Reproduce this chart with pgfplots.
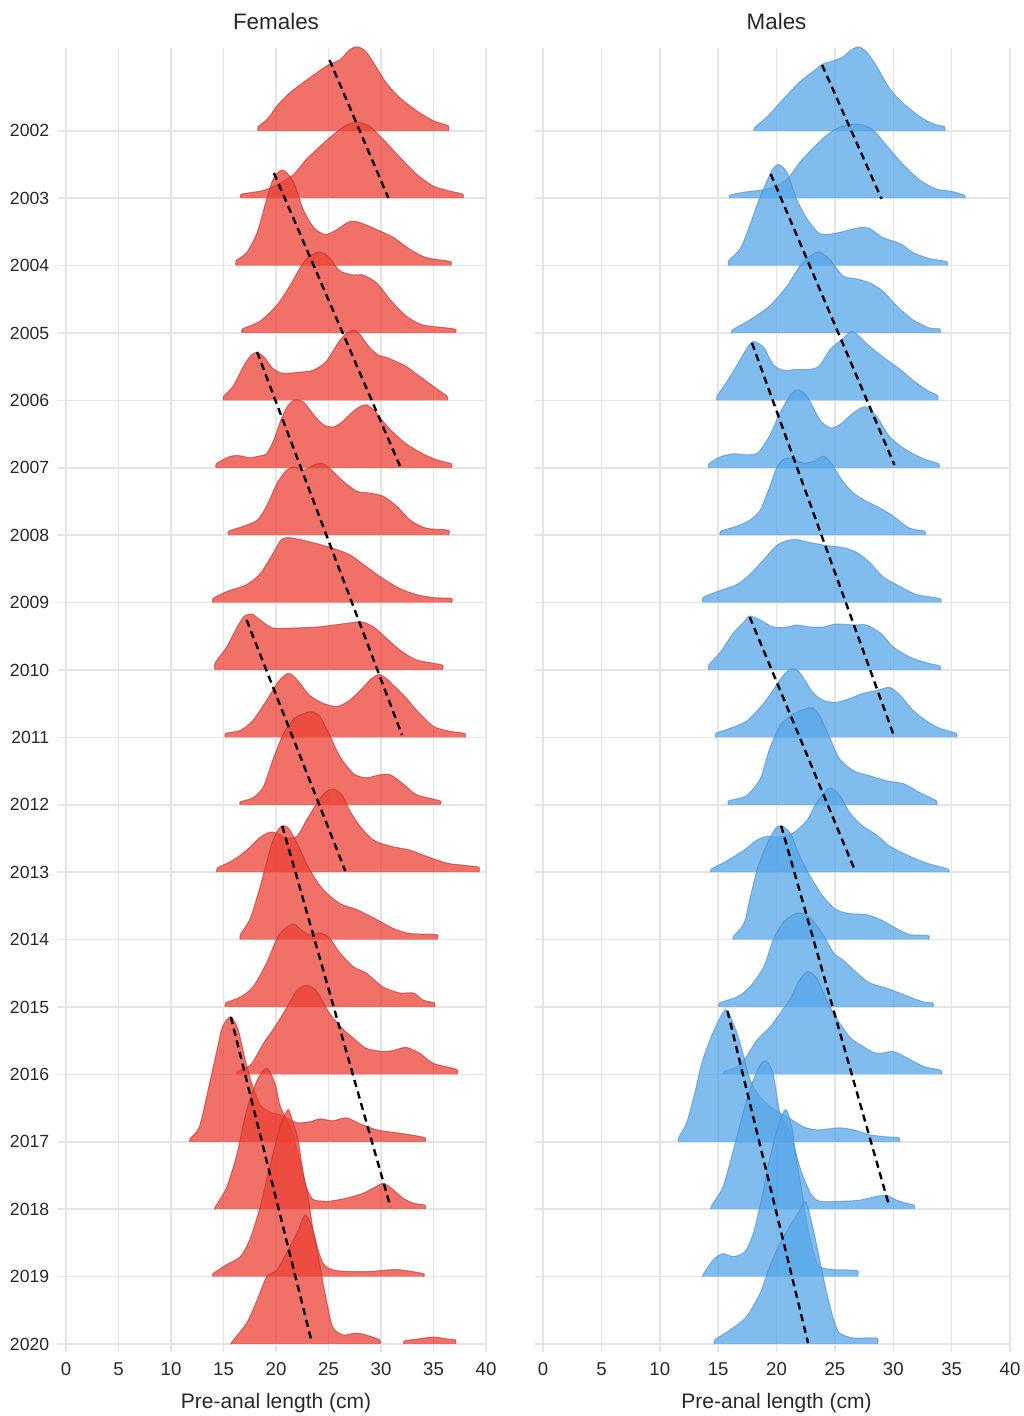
\documentclass[border=0pt]{standalone}
\usepackage{fontspec}
\setmainfont{Liberation Sans}
\usepackage{pgfplots}
\usepackage{pgfplotstable}
\pgfplotsset{compat=1.18}
\definecolor{RF}{RGB}{236,64,52}
\definecolor{RL}{RGB}{185,50,45}
\definecolor{BF}{RGB}{85,165,232}
\definecolor{BL}{RGB}{75,140,205}
\definecolor{gridc}{RGB}{228,228,228}
\definecolor{txt}{RGB}{40,40,40}

% ---------------- Females ----------------
\pgfplotstableread{
x h
18.3 0
18.3 4
19.2 12
20.1 25
21.2 37
22.3 46
23.6 56
25.0 66
26.1 71
27.0 81
27.7 84
28.5 80
29.3 68
30.5 48
31.8 33
33.4 20
35.0 10
36.4 5
36.4 0
}\FA
\pgfplotstableread{
x h
16.7 0
16.7 4
18.5 7
19.4 10
20.7 17
21.7 24
22.9 39
24.2 52
25.5 64
26.7 73
27.8 76
28.9 72
30.2 59
31.8 41
33.4 24
35.0 12
36.6 7
37.8 4
37.8 0
}\FB
\pgfplotstableread{
x h
16.2 0
16.2 5
17.2 13
18.2 33
19.1 66
19.7 86
20.4 95
20.9 94
21.7 83
22.6 56
23.6 38
24.7 31
25.8 36
27.0 44
28.0 43
29.6 36
31.2 28
32.8 16
34.3 8
36.6 4
36.6 0
}\FC
\pgfplotstableread{
x h
16.8 0
16.8 4
18.5 12
20.1 28
21.3 47
22.4 67
23.2 77
24.2 81
25.1 75
26.1 62
27.4 58
28.3 58
29.6 50
30.9 33
32.4 17
34.0 8
37.0 4
37.0 0
}\FD
\pgfplotstableread{
x h
15.0 0
15.0 4
15.9 14
16.9 34
17.6 45
18.2 48
18.9 43
19.6 33
20.3 28
21.0 27
22.0 28
23.5 30
24.7 38
25.4 49
26.0 59
26.7 67
27.4 70
28.0 66
28.6 57
29.2 50
29.8 45
30.5 43
31.2 40
32.4 34
33.7 24
35.0 14
36.3 4
36.3 0
}\FE
\pgfplotstableread{
x h
14.3 0
14.3 4
15.3 10
15.9 12
16.6 12
17.5 10
18.5 12
19.1 14
19.8 28
20.4 46
21.0 60
21.6 67
22.1 68
22.7 65
23.3 57
24.0 48
24.7 42
25.5 41
26.2 45
27.0 53
27.8 60
28.6 63
29.4 57
30.0 49
30.9 38
32.4 24
34.0 14
35.3 8
36.7 4
36.7 0
}\FF
\pgfplotstableread{
x h
15.5 0
15.5 4
16.9 9
18.2 15
19.1 29
20.1 52
21.0 65
21.8 68
22.6 65
23.6 70
24.3 72
25.1 67
26.4 54
27.7 44
29.0 42
30.2 39
31.5 29
32.8 15
34.3 7
36.4 5
36.4 0
}\FG
\pgfplotstableread{
x h
14.0 0
14.0 4
15.3 11
17.2 18
18.5 29
19.7 49
20.5 63
21.2 65
22.3 63
23.9 59
25.5 54
27.0 48
28.6 36
30.2 24
31.8 14
33.4 8
35.0 5
36.7 4
36.7 0
}\FH
\pgfplotstableread{
x h
14.2 0
14.2 7
15.3 23
16.3 43
17.0 54
17.7 56
18.5 50
19.7 42
21.7 42
23.9 43
25.5 45
27.0 47
28.2 48
29.3 43
30.5 32
31.8 20
33.4 10
35.8 5
35.8 0
}\FI
\pgfplotstableread{
x h
15.2 0
15.2 4
16.6 7
17.8 17
19.1 37
20.1 54
20.6 60
21.1 64
21.6 62
22.3 54
23.2 42
24.5 34
25.8 31
27.0 37
28.3 50
29.0 58
29.8 63
30.5 59
31.2 52
31.8 46
32.6 37
33.4 27
35.0 11
36.6 6
38.0 4
38.0 0
}\FJ
\pgfplotstableread{
x h
16.6 0
16.6 3
17.8 7
18.8 18
19.7 45
20.7 71
21.7 86
22.6 91
23.4 93
24.2 88
25.1 70
26.1 48
27.4 31
28.6 27
29.9 30
30.9 30
32.1 21
33.4 10
35.6 4
35.6 0
}\FK
\pgfplotstableread{
x h
14.4 0
14.4 4
15.9 12
17.2 22
18.5 35
19.4 40
20.1 39
21.0 34
22.0 36
22.9 52
23.9 69
24.7 80
25.5 83
26.3 77
27.0 62
28.0 46
29.3 32
30.9 26
32.8 22
34.3 16
36.3 9
37.8 7
39.3 5
39.3 0
}\FL
\pgfplotstableread{
x h
16.6 0
16.6 5
17.5 20
18.3 46
19.0 73
19.6 96
20.2 110
20.7 114
21.3 110
22.3 90
23.2 70
24.5 50
26.1 36
27.7 30
29.6 20
31.2 11
32.8 6
35.3 5
35.3 0
}\FM
\pgfplotstableread{
x h
15.2 0
15.2 4
16.6 10
17.8 20
19.1 44
20.1 69
20.9 79
21.7 83
22.4 77
23.2 72
24.2 74
25.1 69
26.1 54
27.4 40
28.6 34
30.2 20
31.8 14
33.1 14
34.0 7
35.1 4
35.1 0
}\FN
\pgfplotstableread{
x h
16.3 0
16.3 3
17.0 6
17.7 11
18.8 31
19.6 43
20.4 56
21.3 72
22.0 84
22.9 89
23.8 84
24.5 72
25.1 61
25.8 52
26.5 44
27.4 36
28.6 26
30.2 23
31.2 24
32.4 27
33.7 21
35.0 11
37.2 5
37.2 0
}\FO
\pgfplotstableread{
x h
11.8 0
11.8 3
12.7 15
13.6 55
14.3 88
14.9 115
15.7 125
16.4 112
17.0 85
17.7 58
18.5 37
19.4 30
20.4 27
21.2 23
22.0 19
23.2 20
24.2 23
25.4 21
26.7 24
28.0 18
29.6 12
31.5 9
32.8 7
34.2 4
34.2 0
}\FP
\pgfplotstableread{
x h
14.2 0
14.2 2
15.3 22
16.3 56
17.2 99
18.2 129
19.1 141
19.9 126
20.4 103
21.0 90
21.6 75
22.3 48
22.9 22
23.5 10
24.5 8
25.1 8
26.7 11
28.3 16
29.6 23
30.2 26
31.0 21
32.1 11
33.1 6
34.2 4
34.2 0
}\FQ
\pgfplotstableread{
x h
14.0 0
14.0 3
15.3 12
16.6 20
17.5 37
18.5 70
19.4 110
20.4 150
20.9 163
21.2 167
21.6 155
22.1 137
22.6 103
23.1 77
23.6 43
24.5 13
25.8 6
28.6 5
31.5 7
34.0 3
34.0 0
}\FR
\pgfplotstableread{
x h
15.8 0
15.8 2
17.2 21
18.2 44
19.1 67
20.1 74
21.0 91
22.0 111
22.8 129
23.6 111
24.2 77
24.8 44
25.4 17
26.4 9
27.6 11
28.6 9
29.9 4
29.9 0
}\FS
\pgfplotstableread{
x h
32.2 0
32.2 3
33.5 5
35.0 7
36.3 5
37.1 4
37.1 0
}\FSb

% ---------------- Males ----------------
\pgfplotstableread{
x h
18.1 0
18.1 3
19.2 14
20.6 32
22.0 49
23.2 60
24.0 67
24.9 70
25.7 74
26.3 80
27.0 84
27.7 79
28.6 64
29.7 42
30.9 27
32.3 14
33.4 7
34.4 4
34.4 0
}\MA
\pgfplotstableread{
x h
16.0 0
16.0 3
17.2 6
18.6 8
19.7 11
20.9 19
22.0 36
23.2 51
24.3 63
25.4 71
26.6 74
27.4 73
28.3 68
29.4 53
30.9 33
32.3 18
33.7 9
34.9 7
36.1 3
36.1 0
}\MB
\pgfplotstableread{
x h
15.9 0
15.9 5
16.9 17
17.7 40
18.4 63
19.2 85
19.7 97
20.2 101
20.9 93
21.7 67
22.6 47
23.7 32
24.9 32
26.0 35
27.1 38
28.0 37
29.1 28
30.6 22
31.7 13
33.1 7
34.6 4
34.6 0
}\MC
\pgfplotstableread{
x h
16.2 0
16.2 3
17.7 13
19.4 27
20.9 47
22.0 67
22.9 77
23.7 81
24.6 73
25.7 57
26.9 54
28.0 50
29.1 42
30.3 27
31.7 13
33.1 5
34.0 4
34.0 0
}\MD
\pgfplotstableread{
x h
14.9 0
14.9 4
15.7 18
16.6 35
17.4 51
18.0 59
18.9 53
19.7 36
20.6 30
21.7 31
22.9 31
23.7 35
24.6 51
25.7 62
26.4 69
27.1 64
27.7 57
28.3 51
29.4 41
30.6 31
31.7 20
32.9 10
33.8 5
33.8 0
}\ME
\pgfplotstableread{
x h
14.2 0
14.2 4
15.2 11
16.3 14
17.4 13
18.4 15
19.4 32
20.3 55
21.2 73
21.9 78
22.7 70
23.7 48
24.6 40
25.4 43
26.6 55
27.6 61
28.6 51
29.7 31
31.1 18
32.6 9
33.9 4
33.9 0
}\MF
\pgfplotstableread{
x h
15.2 0
15.2 4
16.6 9
17.7 15
18.6 25
19.4 48
20.0 67
20.6 76
21.3 77
22.3 72
23.2 74
24.0 79
24.7 72
25.6 55
26.6 42
27.7 34
28.9 27
30.0 19
31.4 7
32.7 4
32.7 0
}\MG
\pgfplotstableread{
x h
13.7 0
13.7 5
14.9 11
16.6 18
17.7 28
18.9 43
20.0 57
20.9 62
21.7 63
22.9 60
24.3 57
25.7 55
26.9 50
28.0 40
29.1 26
30.6 16
32.0 8
34.0 4
34.0 0
}\MH
\pgfplotstableread{
x h
14.2 0
14.2 5
15.2 18
16.3 37
17.2 48
17.7 54
18.6 50
19.7 43
20.9 43
21.7 45
22.9 43
24.0 43
25.1 46
26.6 45
27.7 45
28.9 37
30.0 23
31.4 13
32.9 7
34.0 4
34.0 0
}\MI
\pgfplotstableread{
x h
14.8 0
14.8 4
16.0 9
17.4 16
18.6 30
19.4 42
20.3 58
21.0 67
21.4 69
21.9 66
22.5 56
23.1 45
24.0 37
25.1 35
26.3 39
27.4 44
28.6 47
29.7 50
30.6 42
31.7 27
32.9 16
34.0 9
35.4 4
35.4 0
}\MJ
\pgfplotstableread{
x h
15.9 0
15.9 4
17.4 9
18.6 26
19.4 56
20.3 79
21.2 89
22.0 94
23.0 97
23.7 89
24.6 66
25.4 46
26.6 34
28.0 29
29.4 24
30.9 21
32.3 12
33.7 4
33.7 0
}\MK
\pgfplotstableread{
x h
14.4 0
14.4 3
15.7 11
17.2 22
18.3 32
19.2 36
20.0 35
21.4 39
22.6 52
23.4 69
24.3 82
24.7 84
25.4 77
26.3 59
27.4 46
28.6 37
29.7 26
31.4 16
32.9 9
34.7 3
34.7 0
}\ML
\pgfplotstableread{
x h
16.3 0
16.3 3
17.2 16
17.7 40
18.4 73
19.2 96
19.9 111
20.4 114
21.2 106
22.0 83
22.9 63
24.0 43
25.1 30
26.3 26
27.7 25
28.9 20
30.3 11
31.4 5
33.0 4
33.0 0
}\MM
\pgfplotstableread{
x h
15.1 0
15.1 4
16.6 10
17.7 20
18.9 40
19.7 67
20.6 85
21.4 92
22.0 94
22.9 89
23.9 74
24.9 54
25.7 47
26.9 34
28.0 24
29.4 19
30.3 15
31.4 10
32.6 5
33.4 4
33.4 0
}\MN
\pgfplotstableread{
x h
15.5 0
15.5 3
16.5 7
17.2 14
18.3 34
19.4 47
20.3 61
21.2 76
21.9 93
22.7 103
23.5 95
24.3 74
25.1 57
26.3 37
27.4 28
28.3 22
28.9 21
30.0 23
31.1 17
32.6 8
34.1 4
34.1 0
}\MO
\pgfplotstableread{
x h
11.6 0
11.6 4
12.3 19
13.0 49
13.6 79
14.3 102
14.9 118
15.7 132
16.6 109
17.2 85
17.7 63
18.6 45
19.7 33
20.9 25
22.3 15
23.4 12
24.6 13
25.4 14
26.6 12
28.0 7
29.4 5
30.5 4
30.5 0
}\MP
\pgfplotstableread{
x h
14.4 0
14.4 3
15.4 22
16.3 59
17.2 99
17.9 126
18.6 144
19.1 148
19.7 136
20.3 96
21.2 76
22.0 42
22.9 16
23.7 8
25.7 8
27.1 9
28.6 13
29.4 14
30.3 9
31.1 6
31.8 4
31.8 0
}\MQ
\pgfplotstableread{
x h
13.7 0
13.7 2
14.6 17
15.4 23
16.3 20
17.3 25
18.0 43
18.7 77
19.4 117
20.2 153
20.8 167
21.3 150
21.7 117
22.2 83
22.6 53
23.2 23
23.7 10
24.9 7
26.9 6
26.9 0
}\MR
\pgfplotstableread{
x h
14.7 0
14.7 4
16.0 14
17.4 27
18.6 51
19.4 77
20.3 101
21.1 117
21.9 132
22.5 142
23.1 117
23.7 84
24.3 51
24.9 24
25.4 11
26.6 6
28.6 6
28.6 0
}\MS

\newcommand{\ridge}[3]{%
  \addplot[smooth, tension=0.45, fill=#3F, fill opacity=0.75, draw=none] table[x=x, y expr=\thisrow{h}+#2] {#1};
  \addplot[smooth, tension=0.45, draw=#3L, line width=0.5pt, draw opacity=0.6] table[x=x, y expr=\thisrow{h}+#2] {#1};
}

\pgfplotsset{
  ridgeax/.style={
    scale only axis,
    height=652pt,
    xmax=40, ymin=-8, ymax=1296,
    axis line style={draw=none},
    major tick length=0pt,
    grid=major,
    grid style={gridc, line width=0.75pt},
    xtick={0,5,...,40},
    ytick={0,67.4,134.8,202.2,269.6,337,404.4,471.8,539.2,606.6,674,741.4,808.8,876.2,943.6,1011,1078.4,1145.8,1213.2},
    clip=false,
    /pgf/number format/assume math mode=true,
    xticklabel style={font=\fontsize{9.3}{11}\selectfont, text=txt, yshift=-1.7pt},
    yticklabel style={font=\fontsize{8.8}{10}\selectfont, text=txt, xshift=-0.7pt},
  },
  dashln/.style={black, line width=1.2pt, dash pattern=on 3.6pt off 2.4pt},
}

\begin{document}
\begin{tikzpicture}
\path[use as bounding box] (0,0) rectangle (511.5pt,708pt);

% ================= Females =================
\begin{axis}[ridgeax,
  at={(28.8pt,32pt)}, anchor=south west,
  width=214.2pt, xmin=-0.8,
  yticklabels={2020,2019,2018,2017,2016,2015,2014,2013,2012,2011,2010,2009,2008,2007,2006,2005,2004,2003,2002},
]
\ridge{\FA}{1213.2}{R}
\ridge{\FB}{1145.8}{R}
\ridge{\FC}{1078.4}{R}
\ridge{\FD}{1011}{R}
\ridge{\FE}{943.6}{R}
\ridge{\FF}{876.2}{R}
\ridge{\FG}{808.8}{R}
\ridge{\FH}{741.4}{R}
\ridge{\FI}{674}{R}
\ridge{\FJ}{606.6}{R}
\ridge{\FK}{539.2}{R}
\ridge{\FL}{471.8}{R}
\ridge{\FM}{404.4}{R}
\ridge{\FN}{337}{R}
\ridge{\FO}{269.6}{R}
\ridge{\FP}{202.2}{R}
\ridge{\FQ}{134.8}{R}
\ridge{\FR}{67.4}{R}
\ridge{\FS}{0}{R}
\ridge{\FSb}{0}{R}
\addplot[dashln] coordinates {(25.1,1284) (30.7,1146)};
\addplot[dashln] coordinates {(19.8,1171) (31.8,878)};
\addplot[dashln] coordinates {(18.2,992) (32.0,609)};
\addplot[dashln] coordinates {(17.2,724) (26.6,473)};
\addplot[dashln] coordinates {(20.6,518) (30.9,137)};
\addplot[dashln] coordinates {(15.7,327) (23.4,2)};
\node[font=\fontsize{11.2}{13}\selectfont, text=txt, anchor=base] at (axis cs:20,1296) [yshift=9.3pt] {Females};
\node[font=\fontsize{10.5}{12}\selectfont, text=txt, anchor=base] at (axis cs:20,-8) [yshift=-28pt] {Pre-anal length (cm)};
\end{axis}

% ================= Males =================
\begin{axis}[ridgeax,
  at={(267.5pt,32pt)}, anchor=south west,
  width=237.5pt, xmin=-0.69,
  yticklabels={},
]
\ridge{\MA}{1213.2}{B}
\ridge{\MB}{1145.8}{B}
\ridge{\MC}{1078.4}{B}
\ridge{\MD}{1011}{B}
\ridge{\ME}{943.6}{B}
\ridge{\MF}{876.2}{B}
\ridge{\MG}{808.8}{B}
\ridge{\MH}{741.4}{B}
\ridge{\MI}{674}{B}
\ridge{\MJ}{606.6}{B}
\ridge{\MK}{539.2}{B}
\ridge{\ML}{471.8}{B}
\ridge{\MM}{404.4}{B}
\ridge{\MN}{337}{B}
\ridge{\MO}{269.6}{B}
\ridge{\MP}{202.2}{B}
\ridge{\MQ}{134.8}{B}
\ridge{\MR}{67.4}{B}
\ridge{\MS}{0}{B}
\addplot[dashln] coordinates {(23.9,1279) (29.0,1145)};
\addplot[dashln] coordinates {(19.5,1170) (30.1,879)};
\addplot[dashln] coordinates {(17.9,1001) (30.0,610)};
\addplot[dashln] coordinates {(17.7,727) (26.7,474)};
\addplot[dashln] coordinates {(20.4,518) (29.6,140)};
\addplot[dashln] coordinates {(15.8,333) (22.7,1)};
\node[font=\fontsize{11.2}{13}\selectfont, text=txt, anchor=base] at (axis cs:20,1296) [yshift=9.3pt] {Males};
\node[font=\fontsize{10.5}{12}\selectfont, text=txt, anchor=base] at (axis cs:20,-8) [yshift=-28pt] {Pre-anal length (cm)};
\end{axis}
\end{tikzpicture}
\end{document}
